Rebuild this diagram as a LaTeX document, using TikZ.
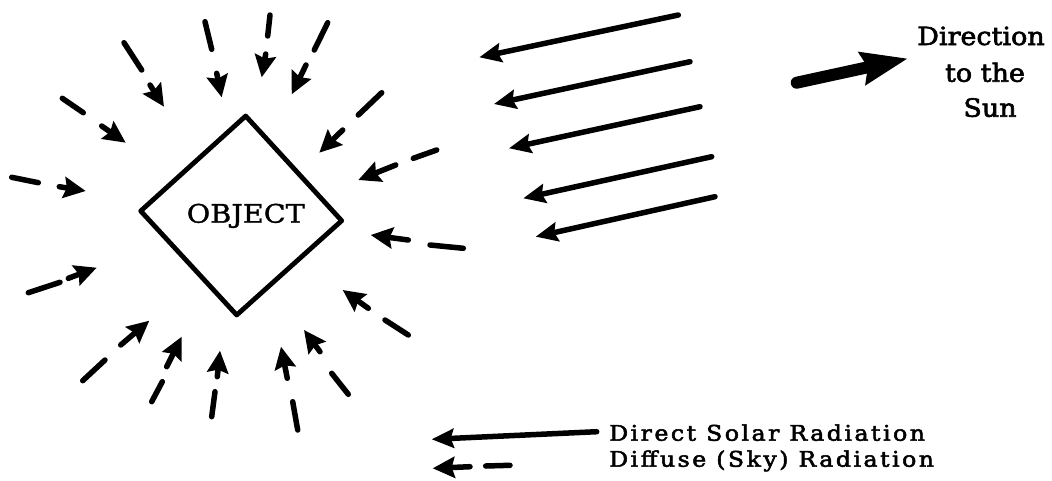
\documentclass[tikz,border=0pt]{standalone}
\usepackage{fontspec}
\newfontfamily\diafont[FakeStretch=1.08,FakeBold=2.4]{DejaVu Serif}
\newfontfamily\objfont[FakeStretch=1.12,FakeBold=1.2]{DejaVu Serif}
\newfontfamily\legfont[FakeStretch=1.1,FakeBold=2.4,LetterSpace=11.5]{DejaVu Serif}
\usetikzlibrary{arrows.meta}
\begin{document}
\begin{tikzpicture}[x=1pt,y=-1pt,
  ray/.style={line width=5.5pt,line cap=round},
  rayhead/.style={line width=5.5pt,line cap=round,-{Stealth[length=22pt,width=21pt,inset=3pt]}},
  directray/.style={line width=5.5pt,line cap=round,-{Stealth[length=22pt,width=19pt,inset=3pt]}},
  sunarrow/.style={line width=12pt,line cap=round,-{Stealth[length=46pt,width=32pt,inset=5pt]}},
  objbox/.style={line width=4.8pt,line join=round},
  objlabel/.style={font=\objfont\fontsize{25.6}{30}\selectfont,inner sep=0pt,anchor=base},
  sunlabel/.style={font=\diafont\fontsize{25}{30}\selectfont,inner sep=0pt,anchor=base},
  leglabel/.style={font=\legfont\fontsize{21.5}{24}\selectfont,inner sep=0pt,anchor=base west}]
\useasboundingbox[fill=white] (0,0) rectangle (1052,480);

% object diamond
\coordinate (dT) at (245.7,116);
\coordinate (dR) at (341.7,220.7);
\coordinate (dB) at (236.7,315);
\coordinate (dL) at (140.7,211);
\draw[objbox] (dT) -- (dR) -- (dB) -- (dL) -- cycle;
\node[objlabel] (obj) at (245.8,222.7) {OBJECT};

% diffuse (sky) radiation: dash + short arrow
\foreach \i/\ax/\ay/\bx/\by/\cx/\cy/\dx/\dy in {
  1/124/42.7/141.7/70/150/85/164/106.7,
  2/205/21.7/211.7/49.3/216.7/73.3/221.7/97.3,
  3/270/15/267.7/36/265.7/54/261.7/77.3,
  4/327.7/22.7/314.3/50/306/65/291.7/94.3,
  5/381.7/92.7/358.3/115/342.7/130/319.3/152.7,
  6/436.7/150/413.3/158.3/395.7/165/358.3/180,
  7/463.3/248.3/430/245/408.3/240/370.7/235,
  8/408.3/335/385/320/368.3/308.3/342.7/290,
  9/348.3/394.3/331.7/373.3/320/351.7/304/330,
  10/297.7/430/292.7/401.7/287.3/378.3/281/346.7,
  11/211.7/416.7/215/391.7/217.3/376.7/220/350.7,
  12/151.7/401.7/162.3/381.7/166.7/366.7/181.7/336.7,
  13/82.7/380.7/105/360/120.7/345/149.3/320.7,
  14/28.3/292.7/60/282.3/68.3/278.3/96.7/267.7,
  15/11.7/177.3/38.3/182.7/59.3/186.7/85.7/191,
  16/62.3/98.3/83.3/112.7/101.7/126/125.7/142.7}{
  \coordinate (s\i a) at (\ax,\ay);
  \coordinate (s\i b) at (\bx,\by);
  \coordinate (s\i c) at (\cx,\cy);
  \coordinate (s\i d) at (\dx,\dy);
  \draw[ray] (s\i a) -- (s\i b);
  \draw[rayhead] (s\i c) -- (s\i d);
}

% direct solar radiation
\foreach \i/\ax/\ay/\bx/\by in {
  1/678.3/15/479.3/57.3,
  2/690/61.7/494/104,
  3/700/106.7/509/148.3,
  4/711.7/156.7/523.3/198.3,
  5/715/196.7/535.7/236.7}{
  \coordinate (r\i a) at (\ax,\ay);
  \coordinate (r\i b) at (\bx,\by);
  \draw[directray] (r\i a) -- (r\i b);
}

% direction to the sun
\coordinate (sunA) at (796.7,82.7);
\coordinate (sunB) at (908,58.5);
\draw[sunarrow] (sunA) -- (sunB);
\node[sunlabel] (sun1) at (981,45) {Direction};
\node[sunlabel] (sun2) at (985,81.7) {to the};
\node[sunlabel] (sun3) at (990,116.7) {Sun};

% legend
\coordinate (l1a) at (596.7,431.7);
\coordinate (l1b) at (431.7,439.3);
\draw[directray] (l1a) -- (l1b);
\coordinate (l2a) at (510,465.3);
\coordinate (l2b) at (485.7,466);
\coordinate (l2c) at (470,466.7);
\coordinate (l2d) at (432.7,468.3);
\draw[ray] (l2a) -- (l2b);
\draw[rayhead] (l2c) -- (l2d);
\node[leglabel] (leg1) at (609,440.7) {Direct Solar Radiation};
\node[leglabel] (leg2) at (609,466.7) {Diffuse (Sky) Radiation};
\end{tikzpicture}
\end{document}
